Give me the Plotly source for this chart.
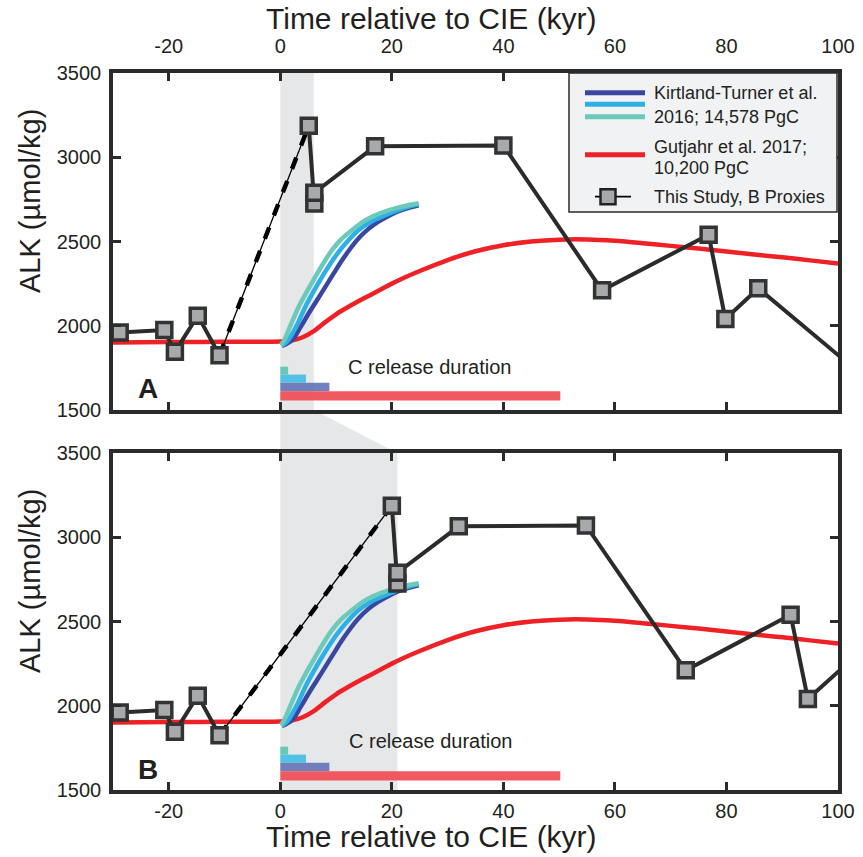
import plotly.graph_objects as go

# ---------------------------------------------------------------- data
# boron-proxy alkalinity reconstruction (kyr relative to CIE, umol/kg)
time_pre = [-28.8, -20.8, -18.9, -14.8, -10.9]
alk_pre = [1960, 1975, 1845, 2060, 1825]

# post-onset samples on the two age models (A and B)
time_post_a = [5.1, 6.1, 6.1, 17.0, 40.0, 57.7, 76.8, 79.8, 85.7, 101.5]
time_post_b = [20.0, 21.0, 21.0, 32.0, 54.8, 72.7, 91.5, 94.6, 100.7, 116.5]
alk_post = [3187, 2725, 2790, 3065, 3070, 2210, 2540, 2040, 2222, 1785]

# Gutjahr et al. 2017 model (10,200 PgC)
gut_time = [-30, -20, -10, 0, 2, 4, 6, 8, 10, 12, 14, 16, 18, 20, 22, 25, 30,
            35, 40, 45, 50, 55, 60, 65, 70, 75, 80, 85, 90, 95, 100]
gut_alk = [1900, 1903, 1905, 1906, 1912, 1932, 1968, 2020, 2068, 2108, 2145,
           2180, 2215, 2250, 2282, 2325, 2390, 2442, 2478, 2500, 2511, 2512,
           2504, 2490, 2474, 2458, 2440, 2423, 2406, 2388, 2370]

# Kirtland-Turner et al. 2016 model runs (14,578 PgC)
kt1_time = [0.3, 2.1, 3.6, 5.1, 6.6, 8.1, 9.6, 11.1, 12.6, 14.05, 15.8, 17.6,
            19.4, 21.2, 23.0, 24.8]
kt1_alk = [1880, 1915, 1990, 2074, 2153, 2232, 2312, 2390, 2460, 2519, 2575,
           2618, 2652, 2680, 2700, 2715]
kt2_time = [0.2, 1.2, 3.0, 4.5, 6.0, 7.5, 9.0, 10.5, 12.3, 14.05, 15.8, 17.6,
            19.5, 21.5, 23.2, 24.8]
kt2_alk = [1882, 1905, 2005, 2113, 2205, 2291, 2370, 2440, 2510, 2568, 2608,
           2638, 2665, 2690, 2708, 2722]
kt3_time = [0.1, 0.7, 2.0, 3.3, 4.8, 6.3, 7.8, 9.3, 11.0, 12.9, 14.6, 16.4,
            18.5, 20.6, 22.7, 24.8]
kt3_alk = [1885, 1915, 2015, 2113, 2205, 2291, 2375, 2450, 2515, 2568, 2612,
           2647, 2675, 2697, 2714, 2727]

# carbon release durations (kyr)
release_labels = ["KT fast", "KT mid", "KT slow", "Gutjahr"]
release_kyr = [1.4, 4.6, 8.8, 50.2]

# duration of the CIE onset shading on each age model (kyr)
onset_a = 6.0
onset_b = 21.0

x_ticks = [-20, 0, 20, 40, 60, 80, 100]
x_tick_text = ["-20", "0", "20", "40", "60", "80", "100"]
y_ticks = [1500, 2000, 2500, 3000, 3500]

# ---------------------------------------------------------------- styling
W, H = 863, 857
ML, MR, MT, MB = 113, 25, 73, 67
PW, PH = W - ML - MR, H - MT - MB
FONT = "Liberation Sans, Arial, Helvetica, sans-serif"
INK = "#2b2b2b"
SHADE = "#e6e7e9"
DOT_FILL = "#a7a9ac"
C_RED = "#ee2226"
C_KT = ["#3a47a0", "#2cb0e5", "#6dc9ba"]
C_BAR = ["#5fc6b1", "#46bee6", "#6677b9", "#f04c55"]
BAR_ROWS = [(1710, 1757), (1662, 1710), (1612, 1662), (1557, 1612)]


def fx(px):
    return (px - ML) / PW


def fy(py):
    return 1 - (py - MT) / PH


dom_a = [fy(410), 1.0]
dom_b = [0.0, fy(453)]

fig = go.Figure()


def add_panel(xa, ya, post_time):
    # release-duration bars
    fig.add_trace(go.Bar(
        x=release_kyr, base=[0] * len(release_kyr),
        y=[(lo + hi) / 2 for lo, hi in BAR_ROWS],
        width=[hi - lo for lo, hi in BAR_ROWS],
        orientation="h", marker=dict(color=C_BAR, line=dict(width=0)),
        opacity=0.92, xaxis=xa, yaxis=ya, showlegend=False,
        hoverinfo="skip", text=release_labels, textposition="none"))
    # model curves
    fig.add_trace(go.Scatter(x=gut_time, y=gut_alk, mode="lines",
                             line=dict(color=C_RED, width=4.5, shape="spline",
                                       smoothing=0.8),
                             xaxis=xa, yaxis=ya, showlegend=False))
    for t, a, c in zip([kt1_time, kt2_time, kt3_time],
                       [kt1_alk, kt2_alk, kt3_alk], C_KT):
        fig.add_trace(go.Scatter(x=t, y=a, mode="lines",
                                 line=dict(color=c, width=4.5, shape="spline"),
                                 xaxis=xa, yaxis=ya, showlegend=False))
    # gap across the CIE onset: thin line with heavy dashes
    gap_x = [time_pre[-1], post_time[0]]
    gap_y = [alk_pre[-1], alk_post[0]]
    fig.add_trace(go.Scatter(x=gap_x, y=gap_y, mode="lines",
                             line=dict(color="black", width=1.3),
                             xaxis=xa, yaxis=ya, showlegend=False))
    fig.add_trace(go.Scatter(x=gap_x, y=gap_y, mode="lines",
                             line=dict(color="black", width=4.5,
                                       dash="12px,13px"),
                             xaxis=xa, yaxis=ya, showlegend=False))
    # proxy record
    for tx, ty in [(time_pre, alk_pre), (post_time, alk_post)]:
        fig.add_trace(go.Scatter(x=tx, y=ty, mode="lines",
                                 line=dict(color=INK, width=4),
                                 xaxis=xa, yaxis=ya, showlegend=False))
    all_t = time_pre + post_time
    all_a = alk_pre + alk_post
    vis = [(t, a) for t, a in zip(all_t, all_a) if -30 <= t <= 100]
    fig.add_trace(go.Scatter(
        x=[v[0] for v in vis], y=[v[1] for v in vis], mode="markers",
        marker=dict(symbol="square", size=15, color=DOT_FILL,
                    line=dict(color="#333333", width=3.5)),
        cliponaxis=False, xaxis=xa, yaxis=ya, showlegend=False))


add_panel("x", "y", time_post_a)
add_panel("x2", "y2", time_post_b)

shapes = [
    dict(type="rect", xref="x", yref="y", x0=0, x1=onset_a, y0=1500,
         y1=3500, fillcolor=SHADE, line=dict(width=0), layer="below"),
    dict(type="rect", xref="x2", yref="y2", x0=0, x1=onset_b, y0=1500,
         y1=3500, fillcolor=SHADE, line=dict(width=0), layer="below"),
    dict(type="path", xref="x", yref="paper",
         path=f"M 0,{dom_a[0]} L {onset_a},{dom_a[0]} L {onset_b},{dom_b[1]} "
              f"L 0,{dom_b[1]} Z",
         fillcolor=SHADE, line=dict(width=0), layer="below"),
]

# legend box
shapes.append(dict(type="rect", xref="paper", yref="paper",
                   x0=fx(569), x1=fx(837), y0=fy(212), y1=fy(73),
                   fillcolor="#f1f2f4", line=dict(color=INK, width=1.5),
                   layer="above"))
for py, c in zip([92.7, 104.3, 116.7], C_KT):
    shapes.append(dict(type="line", xref="paper", yref="paper",
                       x0=fx(585), x1=fx(645), y0=fy(py), y1=fy(py),
                       line=dict(color=c, width=5), layer="above"))
shapes.append(dict(type="line", xref="paper", yref="paper",
                   x0=fx(585), x1=fx(645), y0=fy(154.7), y1=fy(154.7),
                   line=dict(color=C_RED, width=5), layer="above"))
shapes.append(dict(type="line", xref="paper", yref="paper",
                   x0=fx(595), x1=fx(631), y0=fy(196.7), y1=fy(196.7),
                   line=dict(color="black", width=1.8), layer="above"))
shapes.append(dict(type="rect", xref="paper", yref="paper",
                   x0=fx(600.5), x1=fx(615.5), y0=fy(204.2), y1=fy(189.2),
                   fillcolor=DOT_FILL, line=dict(color="#222222", width=2.5),
                   layer="above"))

ann = []


def text(x, y, s, size, xref="paper", yref="paper", xanchor="center", **kw):
    ann.append(dict(x=x, y=y, xref=xref, yref=yref, text=s, showarrow=False,
                    xanchor=xanchor, yanchor="middle",
                    font=dict(family=FONT, size=size, color="#231f20"), **kw))


text(fx(652), fy(93.3), "Kirtland-Turner et al.", 18, xanchor="left")
text(fx(652), fy(116.7), "2016; 14,578 PgC", 18, xanchor="left")
text(fx(652), fy(147.3), "Gutjahr et al. 2017;", 18, xanchor="left")
text(fx(652), fy(168.3), "10,200 PgC", 18, xanchor="left")
text(fx(652), fy(196.5), "This Study, B Proxies", 18, xanchor="left")

text(fx(431), fy(19), "Time relative to CIE (kyr)", 30)
text(fx(431), fy(836), "Time relative to CIE (kyr)", 30)
text(fx(30), fy(201), "ALK (µmol/kg)", 29, textangle=-90)
text(fx(30), fy(581), "ALK (µmol/kg)", 29, textangle=-90)

text(-23.8, 1630, "<b>A</b>", 28, xref="x", yref="y")
text(-23.8, 1619, "<b>B</b>", 28, xref="x2", yref="y2")
text(26.8, 1757, "C release duration", 20, xref="x", yref="y")
text(27.0, 1792, "C release duration", 20, xref="x2", yref="y2")

axis_common = dict(showline=True, linewidth=3.5, linecolor=INK, mirror="ticks",
                   ticks="inside", ticklen=8, tickwidth=3, tickcolor=INK,
                   showgrid=False, zeroline=False, fixedrange=True,
                   tickfont=dict(family=FONT, size=20, color="#231f20"))

fig.update_layout(
    width=W, height=H,
    margin=dict(l=ML, r=MR, t=MT, b=MB, autoexpand=False),
    paper_bgcolor="white", plot_bgcolor="white",
    showlegend=False, barmode="overlay",
    font=dict(family=FONT, color="#231f20"),
    xaxis=dict(domain=[0, 1], range=[-30, 100], anchor="y", side="top",
               tickvals=x_ticks, ticktext=x_tick_text, ticklabelstandoff=8,
               **axis_common),
    yaxis=dict(domain=dom_a, range=[1500, 3500], anchor="x",
               tickvals=y_ticks, ticklabelstandoff=4, **axis_common),
    xaxis2=dict(domain=[0, 1], range=[-30, 100], anchor="y2", side="bottom",
                tickvals=x_ticks, ticktext=x_tick_text, ticklabelstandoff=0,
                **axis_common),
    yaxis2=dict(domain=dom_b, range=[1500, 3500], anchor="x2",
                tickvals=y_ticks, ticklabelstandoff=4, **axis_common),
    shapes=shapes, annotations=ann,
)

fig.write_html("out.html")
